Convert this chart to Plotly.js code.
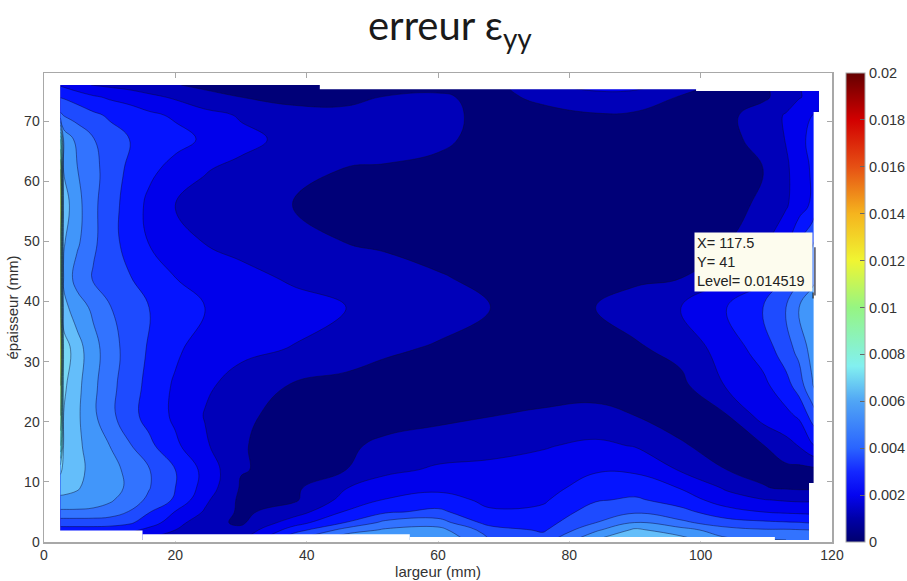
<!DOCTYPE html>
<html>
<head>
<meta charset="utf-8">
<script src="https://cdn.plot.ly/plotly-3.0.1.min.js"></script>
<style>html,body{margin:0;padding:0;background:#fff;overflow:hidden}</style>
</head>
<body>
<div id="chart" style="width:907px;height:581px"></div>
<script>
// --- data ---
const xGrid = [2.5,3,5,7.5,10,13,16,20,24.5,30,38,46,52,60,68,76,84,90,97,104,109.5,113,115,117,118];
const yGrid = [0.35,2,3.2,5,7,9,12,16,21,26,32,39,44,50,56,62,67,71,74,76];
// error values, expressed in contour-level steps (1 = levelStep)
const errorRows = [
[2.4,2.4,2.4,2.4,2.35,2.2,1.8,1.4,.8,1.8,5,6.9,7.1,7.0,5,4.5,7,8.2,7.4,6.2,6.1,6,6,6,6],
[3.6,3.6,3.6,3.6,3.55,3.3,2.7,2,1.25,1.25,3.5,5.4,6.15,6.35,4.5,3.85,5.8,7.2,6.4,5.4,5.1,5.1,5.05,5,5],
[4.45,4.45,4.45,4.45,4.4,4.15,3.5,2.4,1.3,.85,2.55,4.05,5.3,5.5,3.6,3.6,5,6.1,5.25,4.4,4.2,4.1,4.05,3.95,3.95],
[5.8,5.8,5.8,5.75,5.55,4.95,4.05,2.95,1.9,.8,1.5,3.1,3.85,4.25,3.1,3.2,4.5,4.85,4.3,3.4,3,2.85,2.8,2.75,2.75],
[6.75,6.75,6.7,6.5,6.15,5.5,4.8,3.85,2.2,.8,.85,2.35,3.05,3.35,2.8,2.88,3.9,4.15,3.55,2.45,2.05,1.9,1.85,1.85,1.85],
[7.4,7.35,7.1,6.6,6.45,5.8,5.05,4,2.6,.9,.8,1.97,2.55,2.8,2.55,2.65,3.45,3.55,2.95,1.85,1.05,.9,.85,.85,.85],
[8.2,7.75,7.25,6.75,6.35,5.75,5.05,4,2.7,1.05,.75,1,1.75,2.15,2.25,2.35,2.9,2.85,1.9,1,.8,.75,.72,.75,.78],
[12,7.8,7.25,6.5,6,5.1,4.25,3.2,2.15,1.05,.7,.85,1.2,1.5,1.67,1.93,2.2,1.95,1.05,.8,.95,1.65,2.05,2.9,3.1],
[14,7.95,7.2,6.2,5.3,4.35,3.65,2.8,1.95,1.15,.72,.65,.62,.75,.98,1.14,1.27,1,.8,.95,2.4,2.75,3.15,4.4,5.1],
[15,8.2,7.3,6.25,5.3,4.5,3.7,2.85,2.15,1.65,.9,.7,.62,.6,.6,.6,.62,.68,.75,2.1,2.75,3.6,4.5,5.9,6.6],
[16,8.6,7.45,6.35,5.5,4.55,3.9,3.2,2.45,2.2,1.95,1.5,1.12,.9,.75,.65,.7,.85,1.3,2.5,3.4,4.6,5.3,6.4,7],
[15,7.3,6.5,5.8,5.05,4.5,4,3.5,3,2.75,2.35,2,1.75,1.38,1,.7,1,1.45,2,3,4,5,6,6.8,7.2],
[15,6.8,5.6,4.9,4.55,4.05,3.6,3,2.6,2.3,1.85,1.55,1.35,1.05,.85,.7,.7,.8,.97,1.8,2.7,4.1,4.8,5.6,6],
[15,7.1,6.2,5.2,4.4,3.6,2.95,2.4,1.95,1.65,1.2,.98,.85,.75,.7,.65,.65,.68,.8,.95,1.8,2.7,4,4.9,5.2],
[16,7.5,6.35,5.25,4.35,3.65,2.75,2,1.75,1.35,.97,.8,.72,.68,.65,.62,.62,.64,.7,.82,1.1,1.9,2.5,3.2,4],
[15,6.9,6.05,5.3,4.55,3.8,3.25,2.65,2.05,1.8,1.25,.97,.92,.85,.75,.68,.65,.66,.7,.8,1,1.85,2.45,3.15,3.5],
[12,6.7,5.75,5.05,4.45,4,3.65,3.35,2.85,2.25,1.75,1.5,1.35,1.12,.8,.7,.65,.65,.68,.8,1.25,2.05,2.7,3.3,3.6],
[5.2,4.95,4.6,4.2,3.85,3.55,3.2,2.85,2.35,1.9,1.3,1.15,1.3,1.15,.85,.8,.95,.92,.8,.8,1.4,2.1,2.45,3,3.2],
[3.95,3.9,3.6,3.15,2.85,2.6,2.25,1.85,1.3,1,.75,.85,1.03,1.1,.8,1.15,1.4,1.35,.95,.7,.85,1.35,1.95,2.2,2.3],
[2.9,2.8,2.35,1.95,1.8,1.6,1.35,1.05,.8,.65,.55,.5,.65,.8,.7,1.8,2.6,2.5,1.4,.8,.9,1.4,2,2.3,2.4]
];
const levelStep = 0.00072595;
const levelCount = 28;
const bandColors = ['#000078','#0000b9','#0000eb','#0514ff','#1e4bff','#3273ff','#4196fa','#64befa','#78d7f5','#6eebf0','#64fae6','#78fac8','#96fa96','#befa6e','#e6fa3c','#ffeb00','#ffc800','#ffa000','#ff7800','#ff5000','#ff2800','#f00000','#dc0000','#c80000','#b40000','#a00000','#910000','#870000','#800000'];
const barStops = [[0,'#00006e'],[0.05,'#0000a8'],[0.1,'#0505f0'],[0.15,'#1428ff'],[0.2,'#2a64ff'],[0.3,'#50a5f5'],[0.375,'#82f0f0'],[0.5,'#96f582'],[0.6,'#f0f532'],[0.7,'#f5b41e'],[0.8,'#e65014'],[0.9,'#d20000'],[1,'#640000']];
const barTicks = [0,0.002,0.004,0.006,0.008,0.01,0.012,0.014,0.016,0.018,0.02];
const barLabels = ['0','0.002','0.004','0.006','0.008','0.01','0.012','0.014','0.016','0.018','0.02'];
const tipX = 117.5, tipY = 41, tipLevel = 0.014519;
// notches of the measured area (x0,x1,y0,y1)
const noData = [[42,119,75.3,76.6],[99.3,119,75,75.4],[117.2,119,9.8,71.5],[116.5,119,0.1,9.8],[2,15,0.1,1.9],[15,55.7,0.1,1.3],[55.7,111.3,0.1,0.85],[111.3,116.5,0.1,0.35]];

// --- chart ---
const n = bandColors.length - 1;
const contourScale = bandColors.map((c,i)=>[i/n,c]);
const z = errorRows.map(r=>r.map(v=>v*levelStep));
const traces = [
 {type:'contour',x:xGrid,y:yGrid,z:z,colorscale:contourScale,showscale:false,autocontour:false,
  contours:{start:levelStep,end:levelStep*levelCount,size:levelStep,coloring:'fill',showlines:true},
  line:{color:'rgba(10,10,50,0.65)',width:0.7,smoothing:1.2},hoverinfo:'skip'},
 {type:'scatter',mode:'markers',x:[-50],y:[-50],showlegend:false,hoverinfo:'skip',
  marker:{color:[0],cmin:0,cmax:0.02,colorscale:barStops,showscale:true,
   colorbar:{x:1.0178,xanchor:'left',xpad:0,ypad:0,y:0.5,yanchor:'middle',len:1,lenmode:'fraction',thickness:19,thicknessmode:'pixels',
    outlinecolor:'#a8a8a8',outlinewidth:1,ticks:'inside',ticklen:5,tickcolor:'#666',tickvals:barTicks,ticktext:barLabels,
    tickfont:{family:'Liberation Sans',size:14.5,color:'#333'}}}},
 {type:'scatter',mode:'markers',x:[tipX],y:[tipY],showlegend:false,hoverinfo:'skip',
  marker:{symbol:'square',size:6,color:'#000'}}
];
const axisCommon = {showgrid:false,zeroline:false,showline:true,linecolor:'#a8a8a8',linewidth:1.5,mirror:'ticks',ticks:'inside',ticklen:5,tickcolor:'#a8a8a8',tickfont:{family:'Liberation Sans',size:14,color:'#333'}};
const shapes = noData.map(r=>({type:'rect',xref:'x',yref:'y',x0:r[0],x1:r[1],y0:r[2],y1:r[3],fillcolor:'#fff',line:{width:0},layer:'above'}));
shapes.push({type:'line',xref:'x',yref:'y',x0:tipX-0.1,x1:tipX-0.1,y0:tipY,y1:tipY+8,line:{color:'#223',width:1.2},layer:'above'});
const layout = {
 width:907,height:581,margin:{l:44,r:75,t:73,b:39,pad:0,autoexpand:false},autosize:false,paper_bgcolor:'#fff',plot_bgcolor:'#fff',showlegend:false,
 title:{text:'erreur \u03b5<sub>yy</sub>',x:0.496,xanchor:'center',y:0.955,yanchor:'middle',font:{family:'Lato',size:40,color:'#1a1a1a'}},
 xaxis:Object.assign({},axisCommon,{range:[0,120],tickvals:[0,20,40,60,80,100,120],title:{text:'largeur (mm)',standoff:1,font:{family:'Liberation Sans',size:15,color:'#333'}}}),
 yaxis:Object.assign({},axisCommon,{range:[0,78],tickvals:[0,10,20,30,40,50,60,70],title:{text:'\u00e9paisseur (mm)',standoff:2,font:{family:'Liberation Sans',size:15,color:'#333'}}}),
 shapes:shapes,
 annotations:[{xref:'x',yref:'y',x:117.15,y:41.6,xanchor:'right',yanchor:'bottom',showarrow:false,align:'left',width:113,height:54,borderpad:2,bgcolor:'#fdfcee',
  text:'X= '+tipX+'<br>Y= '+tipY+'<br>Level= '+tipLevel,font:{family:'Liberation Sans',size:14.5,color:'#222'}}]
};
Plotly.newPlot('chart',traces,layout,{displayModeBar:false,staticPlot:true});
</script>
</body>
</html>
